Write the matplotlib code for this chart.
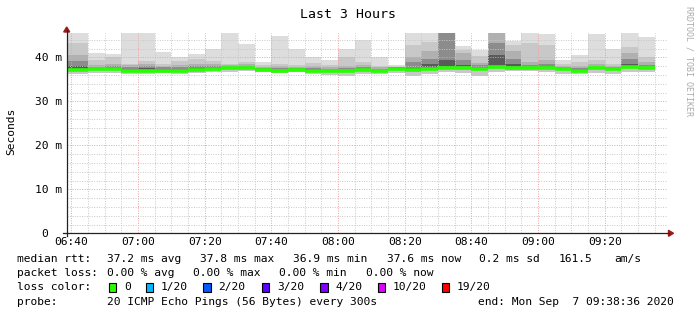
import matplotlib
matplotlib.use("Agg")
import matplotlib.pyplot as plt
import pandas as pd
from matplotlib.lines import Line2D
from matplotlib.patches import Rectangle, Polygon

W, H, DPI = 697, 315, 100
MONO = "DejaVu Sans Mono"

title = "Last 3 Hours"
t_start = pd.Timestamp("2020-09-07 06:38:36")
t_end = pd.Timestamp("2020-09-07 09:38:36")
bar_ends = pd.date_range("2020-09-07 06:45", "2020-09-07 09:35", freq="5min")
tick_times = pd.date_range("2020-09-07 06:40", "2020-09-07 09:20", freq="20min")

# smoke layers (ms): outer max, then inner upper edges, median, min
hi = [45.6, 41.0, 40.8, 45.6, 45.6, 41.2, 40.0, 40.8, 41.9, 45.6, 43.0, 39.0,
      44.8, 42.0, 40.0, 39.4, 42.0, 43.9, 40.0, 38.2, 45.6, 45.6, 45.6, 42.6,
      41.7, 45.6, 43.8, 45.6, 45.3, 39.4, 40.5, 45.3, 42.0, 45.6, 44.7]
u2 = [43.2, 39.4, 40.1, 38.6, 39.2, 38.6, 39.2, 39.7, 39.2, 38.6, 38.9, 38.2,
      38.5, 38.2, 38.7, 38.2, 40.1, 38.9, 38.0, 37.9, 42.8, 43.5, 45.6, 41.7,
      40.3, 45.6, 42.7, 43.3, 42.8, 38.6, 38.9, 39.4, 38.6, 42.3, 40.1]
u3 = [40.5, 38.3, 38.5, 38.2, 38.6, 38.1, 38.3, 38.5, 38.5, 38.2, 38.4, 37.8,
      38.0, 37.8, 38.1, 37.8, 38.0, 38.3, 37.7, 37.7, 40.1, 41.5, 45.6, 41.0,
      38.8, 45.6, 41.5, 38.9, 39.5, 38.1, 38.0, 38.4, 38.1, 41.0, 38.9]
u4 = [39.2, 37.9, 38.0, 37.8, 38.0, 37.7, 37.8, 38.0, 38.0, 37.9, 38.0, 37.5,
      37.5, 37.5, 37.6, 37.4, 37.5, 37.8, 37.4, 37.6, 38.9, 39.7, 45.6, 39.5,
      38.2, 43.2, 39.7, 38.3, 38.6, 37.8, 37.6, 37.9, 37.7, 39.7, 38.3]
u5 = [38.0, 37.6, 37.7, 37.4, 37.5, 37.4, 37.3, 37.6, 37.8, 37.8, 37.8, 37.3,
      37.2, 37.3, 37.3, 37.1, 37.2, 37.4, 37.2, 37.8, 37.6, 38.5, 39.3, 38.3,
      37.8, 40.5, 38.6, 37.9, 38.0, 37.5, 37.3, 37.7, 37.5, 38.6, 37.9]
med = [37.2, 37.3, 37.3, 37.0, 37.0, 37.0, 37.0, 37.1, 37.4, 37.5, 37.6, 37.1,
       37.0, 37.1, 37.0, 36.9, 36.9, 37.1, 37.0, 37.4, 37.1, 37.4, 37.6, 37.6,
       37.3, 37.8, 37.6, 37.5, 37.6, 37.3, 37.0, 37.5, 37.3, 37.8, 37.6]
lo = [36.2, 36.5, 36.4, 36.2, 36.2, 36.4, 36.2, 36.4, 36.6, 36.6, 36.8, 36.6,
      36.4, 36.6, 36.2, 36.0, 35.8, 36.2, 36.2, 36.4, 35.8, 36.2, 36.6, 36.4,
      35.8, 36.6, 37.0, 37.0, 36.6, 36.2, 36.2, 36.4, 36.2, 36.6, 36.6]

y_ticks = [0, 10, 20, 30, 40]
y_tick_labels = ["0  ", "10 m", "20 m", "30 m", "40 m"]

rtt_legend = [("median rtt:", 16.7), ("37.2 ms avg", 107.3), ("37.8 ms max", 200),
              ("36.9 ms min", 293.3), ("37.6 ms now", 386.7), ("0.2 ms sd", 479.3),
              ("161.5", 558.3), ("am/s", 614.3)]
loss_legend = [("packet loss:", 16.7), ("0.00 % avg", 107.3), ("0.00 % max", 193.3),
               ("0.00 % min", 279.3), ("0.00 % now", 365.7)]
loss_labels = ["0", "1/20", "2/20", "3/20", "4/20", "10/20", "19/20"]
loss_colors = ["#26ff00", "#00b8ff", "#0059ff", "#5e00ff", "#7e00ff", "#dd00ff", "#ff0000"]
loss_box_x = [108.7, 145.7, 203.3, 261.7, 320, 377.7, 441.7]
probe_legend = [("probe:", 16.7), ("20 ICMP Echo Pings (56 Bytes) every 300s", 107.3),
                ("end: Mon Sep  7 09:38:36 2020", 478.3)]


def minutes(ts):
    return (ts - ts.normalize()) / pd.Timedelta(minutes=1)


def fx(px):
    return px / W


def fy(py):
    return 1 - py / H


fig = plt.figure(figsize=(W / DPI, H / DPI), dpi=DPI)
fig.patch.set_facecolor("white")

ax_l, ax_r, ax_t, ax_b = 66.7, 666.7, 32.5, 233.3
ax = fig.add_axes([fx(ax_l), fy(ax_b), (ax_r - ax_l) / W, (ax_b - ax_t) / H])

ends = [minutes(t) for t in bar_ends]
x0, x1 = minutes(t_start), minutes(t_end)
lefts = [e - 5 for e in ends]
lefts[0] = x0
widths = [e - l for e, l in zip(ends, lefts)]

layers = [(lo, hi, "#dddddd"), (lo, u2, "#c8c8c8"), (med, u3, "#b0b0b0"),
          (med, u4, "#8c8c8c"), (med, u5, "#5a5a5a")]
for bottom, top, col in layers:
    ax.bar(lefts, [t - b for t, b in zip(top, bottom)], width=widths, bottom=bottom,
           align="edge", color=col, linewidth=0, zorder=1)

ax.hlines(med, lefts, ends, color=loss_colors[0], linewidth=2.6, zorder=3)

ax.set_xlim(x0, x1)
ax.set_ylim(0, 45.65)
ax.set_xticks([minutes(t) for t in tick_times])
ax.set_xticklabels([t.strftime("%H:%M") for t in tick_times])
ax.set_xticks([m for m in range(400, 580, 5)], minor=True)
ax.set_yticks(y_ticks)
ax.set_yticklabels(y_tick_labels)
ax.set_yticks(list(range(0, 46, 2)), minor=True)

ax.set_axisbelow(False)
ax.grid(which="minor", color="#c8c8c8", linestyle=(0, (1, 1.5)), linewidth=0.7)
ax.grid(which="major", color="#f0a0a0", linestyle=(0, (1, 1.5)), linewidth=0.7)
ax.tick_params(which="both", length=0)
ax.tick_params(axis="x", pad=2.5, labelsize=8.1)
ax.tick_params(axis="y", pad=3.3, labelsize=8.1)
for lab in ax.get_xticklabels() + ax.get_yticklabels():
    lab.set_fontfamily(MONO)
for s in ax.spines.values():
    s.set_visible(False)

# axis lines and arrows
fig.add_artist(Line2D([fx(ax_l), fx(ax_l)], [fy(236), fy(30)], color="#222222", lw=0.9))
fig.add_artist(Line2D([fx(63), fx(669)], [fy(ax_b), fy(ax_b)], color="#222222", lw=0.9))
fig.add_artist(Polygon([(fx(63.7), fy(32)), (fx(69.7), fy(32)), (fx(66.7), fy(27))],
                       closed=True, color="#9b1b1b", transform=fig.transFigure))
fig.add_artist(Polygon([(fx(668.5), fy(230.3)), (fx(668.5), fy(236.3)), (fx(673.5), fy(233.3))],
                       closed=True, color="#9b1b1b", transform=fig.transFigure))

fig.text(fx(348), fy(14), title, family=MONO, fontsize=9.5, ha="center", va="center")
fig.text(fx(11), fy(131), "Seconds", family=MONO, fontsize=8.1, rotation=90,
         ha="center", va="center")
fig.text(fx(688.5), fy(6), "RRDTOOL / TOBI OETIKER", family=MONO, fontsize=6,
         rotation=-90, ha="center", va="top", color="#aaaaaa")

for txt, px in rtt_legend:
    fig.text(fx(px), fy(259), txt, family=MONO, fontsize=8.1, ha="left", va="center")
for txt, px in loss_legend:
    fig.text(fx(px), fy(273.3), txt, family=MONO, fontsize=8.1, ha="left", va="center")
fig.text(fx(16.7), fy(287.3), "loss color:", family=MONO, fontsize=8.1, ha="left", va="center")
for lab, col, px in zip(loss_labels, loss_colors, loss_box_x):
    fig.add_artist(Rectangle((fx(px), fy(291.5)), 7.7 / W, 8.5 / H, facecolor=col,
                             edgecolor="black", linewidth=0.8, transform=fig.transFigure))
    fig.text(fx(px + 15.3), fy(287.3), lab, family=MONO, fontsize=8.1, ha="left", va="center")
for txt, px in probe_legend:
    fig.text(fx(px), fy(301.7), txt, family=MONO, fontsize=8.1, ha="left", va="center")

fig.savefig("out.png", dpi=DPI)
